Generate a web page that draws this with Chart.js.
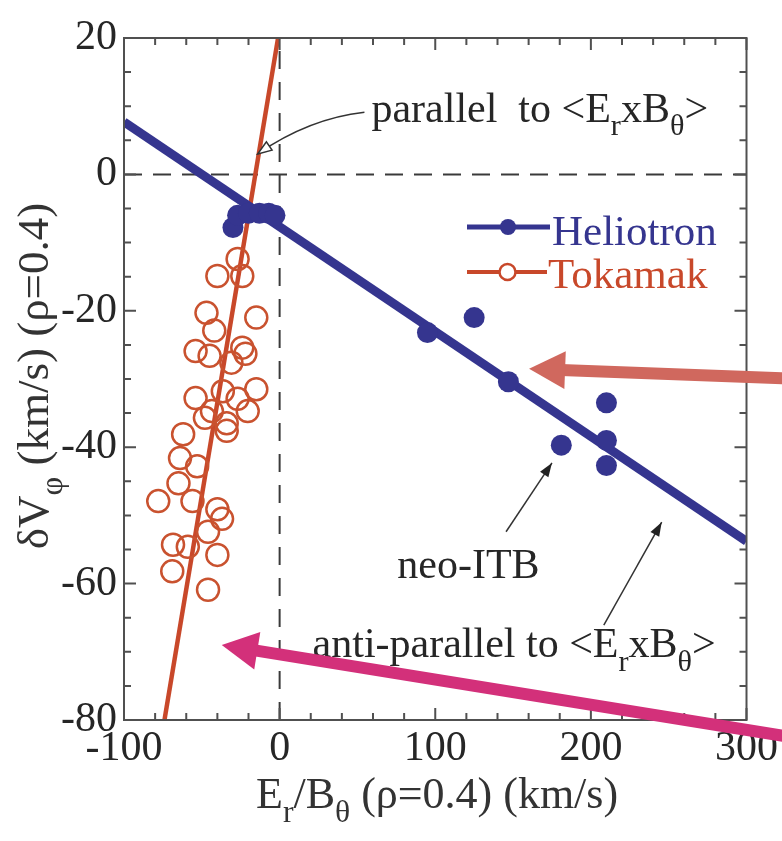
<!DOCTYPE html>
<html>
<head>
<meta charset="utf-8">
<script src="https://cdn.jsdelivr.net/npm/chart.js@4.4.1/dist/chart.umd.min.js"></script>
<style>
  html, body { margin: 0; padding: 0; background: #fff; }
  #wrap { width: 782px; height: 841px; }
</style>
</head>
<body>
<div id="wrap"><canvas id="rotation"></canvas></div>
<script>
// axis ticks
const xTicks = [-100, 0, 100, 200, 300];
const yTicks = [-80, -60, -40, -20, 0, 20];

// Heliotron (filled) points
const heliotronX = [-30, -27, -20, -13, -7, -3, 95, 125, 147, 181, 210, 210, 210];
const heliotronY = [-7.8, -6, -5.7, -5.7, -5.7, -6, -23.2, -21, -30.4, -39.7, -33.5, -39, -42.7];

// Tokamak (open) points
const tokamakX = [-27, -40, -24, -47, -15, -42, -54, -45, -24, -31, -22, -36.5, -54, -15, -27, -20.5, -48, -34, -62, -43.5, -34,
  -64, -53, -65, -78, -56, -40, -37, -46, -68.5, -59, -40, -69, -46];
const tokamakY = [-12.4, -14.9, -14.9, -20.3, -21, -22.9, -25.9, -26.6, -25.4, -27.6, -26.3, -31.8, -32.8, -31.5, -32.9, -34.7, -35.7, -36.5, -38.1, -34.7, -37.6,
  -41.6, -42.8, -45.3, -47.9, -47.9, -49.1, -50.5, -52.4, -54.3, -54.6, -55.8, -58.2, -60.9];

// fitted lines
const heliotronFitX = [-100, 300];
const heliotronFitY = [7.7, -53.8];
const tokamakFitX = [-74, -1];
const tokamakFitY = [-80, 20];

// dashed zero lines
const zeroHX = [-100, 300], zeroHY = [0, 0];
const zeroVX = [0, 0], zeroVY = [-80, 20];

const SERIF = '"Liberation Serif", "Times New Roman", serif';
const BLUE = '#35358f';
const RED = '#c8482a';
const INK = '#262626';

const pts = (xs, ys) => xs.map((x, i) => ({ x, y: ys[i] }));

// text with subscripts: parts = [[text], [text, true] ...]
function richWidth(ctx, parts, size) {
  let w = 0;
  parts.forEach(([t, sub]) => {
    ctx.font = `${sub ? size * 0.72 : size}px ${SERIF}`;
    w += ctx.measureText(t).width;
  });
  return w;
}
function richText(ctx, parts, x, y, size, color) {
  ctx.fillStyle = color;
  ctx.textBaseline = 'alphabetic';
  ctx.textAlign = 'left';
  parts.forEach(([t, sub]) => {
    ctx.font = `${sub ? size * 0.72 : size}px ${SERIF}`;
    ctx.fillText(t, x, sub ? y + size * 0.32 : y);
    x += ctx.measureText(t).width;
  });
}

function arrowHead(ctx, tx, ty, ang, len, half, fill) {
  ctx.beginPath();
  ctx.moveTo(tx, ty);
  ctx.lineTo(tx - len * Math.cos(ang) + half * Math.sin(ang), ty - len * Math.sin(ang) - half * Math.cos(ang));
  ctx.lineTo(tx - len * Math.cos(ang) - half * Math.sin(ang), ty - len * Math.sin(ang) + half * Math.cos(ang));
  ctx.closePath();
  ctx.fillStyle = fill;
  ctx.fill();
  if (fill === '#fff') ctx.stroke();
}

// labels inside the plot, in data units
const notes = [
  { at: [59, 7.7], parts: [['parallel  to <E'], ['r', true], ['xB'], ['θ', true], ['>']] },
  { at: [75.6, -59.2], parts: [['neo-ITB']] },
  { at: [21.2, -70.8], parts: [['anti-parallel to <E'], ['r', true], ['xB'], ['θ', true], ['>']] },
];
// thin pointer arrows: tail, tip, optional bend
const pointers = [
  { from: [54.5, 9.1], to: [-14.1, 3.0], bend: [19, 8.2], head: '#fff' },
  { from: [145.5, -52.4], to: [175, -42.3], head: '#222' },
  { from: [208.3, -66.1], to: [245.5, -51], head: '#222' },
];
// wide arrows running in from the right edge
const bigArrows = [
  { to: [160.3, -28.5], tailY: -29.9, color: '#d0685e' },
  { to: [-37.2, -69], tailY: -82.3, color: '#d3307a' },
];

const frameAndText = {
  id: 'frameAndText',
  afterDatasetsDraw(chart) {
    const { ctx, chartArea: a, scales: { x, y } } = chart;
    ctx.save();
    // frame
    ctx.strokeStyle = '#505050';
    ctx.lineWidth = 2;
    ctx.strokeRect(a.left, a.top, a.right - a.left, a.bottom - a.top);
    // inward ticks on all four sides
    ctx.beginPath();
    for (let v = -100; v <= 300; v += 20) {
      const px = x.getPixelForValue(v), len = v % 100 === 0 ? 12 : 7;
      ctx.moveTo(px, a.bottom); ctx.lineTo(px, a.bottom - len);
      ctx.moveTo(px, a.top); ctx.lineTo(px, a.top + len);
    }
    for (let v = -80; v <= 20; v += 5) {
      const py = y.getPixelForValue(v), len = v % 20 === 0 ? 12 : 7;
      ctx.moveTo(a.left, py); ctx.lineTo(a.left + len, py);
      ctx.moveTo(a.right, py); ctx.lineTo(a.right - len, py);
    }
    ctx.stroke();

    // axis titles
    const xt = [['E'], ['r', true], ['/B'], ['θ', true], [' (ρ=0.4) (km/s)']];
    richText(ctx, xt, 256, 808, 44, '#333');
    const yt = [['δV'], ['φ', true], [' (km/s) (ρ=0.4)']];
    const yw = richWidth(ctx, yt, 45);
    ctx.save();
    ctx.translate(48, 376);
    ctx.rotate(-Math.PI / 2);
    richText(ctx, yt, -yw / 2, 0, 45, '#333');
    ctx.restore();

    // legend
    ctx.lineWidth = 5;
    ctx.strokeStyle = BLUE;
    ctx.beginPath(); ctx.moveTo(467, 227); ctx.lineTo(550, 227); ctx.stroke();
    ctx.fillStyle = BLUE;
    ctx.beginPath(); ctx.arc(508, 227, 8, 0, Math.PI * 2); ctx.fill();
    ctx.strokeStyle = RED;
    ctx.lineWidth = 4;
    ctx.beginPath(); ctx.moveTo(467, 272); ctx.lineTo(499, 272); ctx.moveTo(516, 272); ctx.lineTo(547, 272); ctx.stroke();
    ctx.lineWidth = 2.5;
    ctx.beginPath(); ctx.arc(507.5, 272, 8, 0, Math.PI * 2); ctx.stroke();
    richText(ctx, [['Heliotron']], 552, 245, 43, BLUE);
    richText(ctx, [['Tokamak']], 548, 288, 43, RED);

    // notes and pointers
    notes.forEach((n) => richText(ctx, n.parts, x.getPixelForValue(n.at[0]), y.getPixelForValue(n.at[1]), 42, INK));
    ctx.strokeStyle = '#333';
    ctx.lineWidth = 1.5;
    pointers.forEach((p) => {
      const fx = x.getPixelForValue(p.from[0]), fy = y.getPixelForValue(p.from[1]);
      const tx = x.getPixelForValue(p.to[0]), ty = y.getPixelForValue(p.to[1]);
      ctx.beginPath();
      ctx.moveTo(fx, fy);
      let ang;
      if (p.bend) {
        const bx = x.getPixelForValue(p.bend[0]), by = y.getPixelForValue(p.bend[1]);
        ctx.quadraticCurveTo(bx, by, tx, ty);
        ang = Math.atan2(ty - by, tx - bx);
      } else {
        ctx.lineTo(tx, ty);
        ang = Math.atan2(ty - fy, tx - fx);
      }
      ctx.stroke();
      arrowHead(ctx, tx, ty, ang, 14, 5, p.head);
    });
    ctx.restore();
  },
  afterDraw(chart) {
    const { ctx, scales: { x, y } } = chart;
    ctx.save();
    bigArrows.forEach((b) => {
      const tx = x.getPixelForValue(b.to[0]), ty = y.getPixelForValue(b.to[1]);
      const fx = chart.width, fy = y.getPixelForValue(b.tailY);
      const ang = Math.atan2(ty - fy, tx - fx);
      const head = 36;
      ctx.strokeStyle = b.color;
      ctx.lineWidth = 12;
      ctx.beginPath();
      ctx.moveTo(fx + 10, fy + 10 * Math.tan(ang));
      ctx.lineTo(tx - (head - 4) * Math.cos(ang), ty - (head - 4) * Math.sin(ang));
      ctx.stroke();
      arrowHead(ctx, tx, ty, ang, head, 19, b.color);
    });
    ctx.restore();
  },
};

new Chart(document.getElementById('rotation'), {
  type: 'scatter',
  data: {
    datasets: [
      { data: pts(heliotronX, heliotronY), pointRadius: 10.5, pointBackgroundColor: BLUE, pointBorderWidth: 0 },
      { data: pts(heliotronFitX, heliotronFitY), showLine: true, borderColor: BLUE, borderWidth: 9, pointRadius: 0 },
      { data: pts(tokamakX, tokamakY), pointRadius: 11, pointBackgroundColor: 'rgba(0,0,0,0)', pointBorderColor: '#c9522f', pointBorderWidth: 2.5 },
      { data: pts(tokamakFitX, tokamakFitY), showLine: true, borderColor: RED, borderWidth: 4.5, pointRadius: 0 },
      { data: pts(zeroHX, zeroHY), showLine: true, borderColor: '#3a3a3a', borderWidth: 2, borderDash: [18, 11], pointRadius: 0 },
      { data: pts(zeroVX, zeroVY), showLine: true, borderColor: '#3a3a3a', borderWidth: 2, borderDash: [18, 13], pointRadius: 0 },
    ],
  },
  options: {
    responsive: true,
    maintainAspectRatio: false,
    animation: false,
    layout: { padding: { top: 38, right: 34, left: 0, bottom: 0 } },
    plugins: { legend: { display: false }, tooltip: { enabled: false } },
    scales: {
      x: {
        type: 'linear', min: -100, max: 300,
        afterBuildTicks: (s) => { s.ticks = xTicks.map((v) => ({ value: v })); },
        afterFit: (s) => { s.height = 121; },
        grid: { display: false, drawTicks: false }, border: { display: false },
        ticks: { color: INK, padding: 4, maxRotation: 0, font: { family: SERIF, size: 42 } },
      },
      y: {
        type: 'linear', min: -80, max: 20,
        afterBuildTicks: (s) => { s.ticks = yTicks.map((v) => ({ value: v })); },
        afterFit: (s) => { s.width = 124; },
        grid: { display: false, drawTicks: false }, border: { display: false },
        ticks: { color: INK, padding: 7, font: { family: SERIF, size: 42 } },
      },
    },
  },
  plugins: [frameAndText],
});
</script>
</body>
</html>
